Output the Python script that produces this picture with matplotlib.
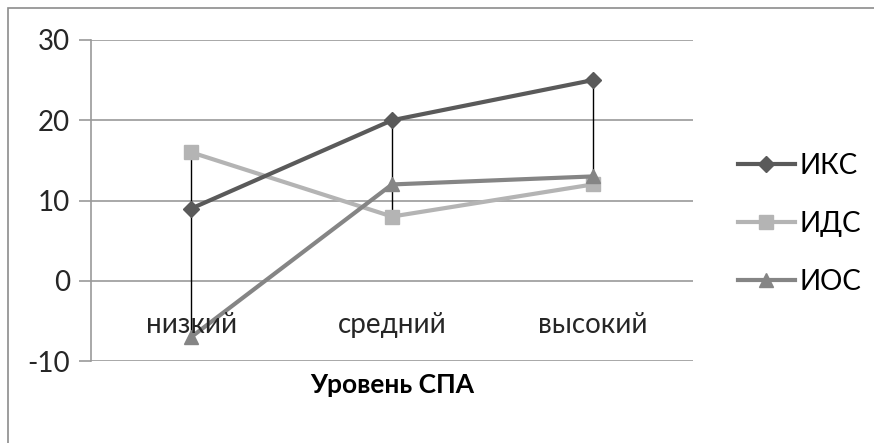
import matplotlib.pyplot as plt
import numpy as np
from matplotlib.patches import Rectangle

plt.rcParams['font.family'] = ['Lato', 'DejaVu Sans']

categories = ['низкий', 'средний', 'высокий']
iks = [9, 20, 25]
ids = [16, 8, 12]
ios = [-7, 12, 13]
yticks = [-10, 0, 10, 20, 30]

W, H = 874, 443
fig = plt.figure(figsize=(W / 100, H / 100), dpi=100)
ax = fig.add_axes([91 / W, 1 - 361 / H, (693 - 91) / W, (361 - 40) / H])

# chart frame
fig.patches.append(Rectangle((8 / W, -0.1), 1.2, 1 - 8 / H + 0.1, transform=fig.transFigure,
                             fill=False, edgecolor='#8c8c8c', linewidth=1.2))

x = np.arange(len(categories)) + 0.5
allv = np.array([iks, ids, ios])
ax.vlines(x, allv.min(axis=0), allv.max(axis=0), color='black', linewidth=1, zorder=2)

ax.plot(x, iks, color='#5a5a5a', linewidth=3, marker='D', markersize=8, label='ИКС', zorder=4)
ax.plot(x, ids, color='#b4b4b4', linewidth=3, marker='s', markersize=10, label='ИДС', zorder=3)
ax.plot(x, ios, color='#858585', linewidth=3, marker='^', markersize=10, label='ИОС', zorder=3)

fs = 20
ax.set_xlim(0, 3)
ax.set_ylim(-10, 30)
ax.set_yticks(yticks)
ax.set_yticklabels([str(v) for v in yticks], fontsize=fs, color='#262626')
ax.yaxis.grid(True, color='#9a9a9a', linewidth=1.2)
ax.set_axisbelow(True)
ax.tick_params(axis='y', length=9, width=1.2, color='#9a9a9a', pad=6)
ax.set_xticks([])
for s in ['top', 'right', 'bottom']:
    ax.spines[s].set_visible(False)
ax.spines['left'].set_color('#9a9a9a')
ax.spines['left'].set_linewidth(1.2)

for xi, c in zip(x, categories):
    ax.text(xi, -5.5, c, ha='center', va='center', fontsize=fs, color='#262626')

ax.text(1.5, -13, 'Уровень СПА', ha='center', va='center', fontsize=19,
        fontweight='bold', color='black')

leg = ax.legend(loc='upper left', bbox_to_anchor=(738 / W, 1 - 153 / H), bbox_transform=fig.transFigure,
                frameon=False, fontsize=fs, handlelength=2.05, handletextpad=0.15, labelspacing=1.15,
                borderpad=0, borderaxespad=0)

fig.savefig('out.png', dpi=100)
